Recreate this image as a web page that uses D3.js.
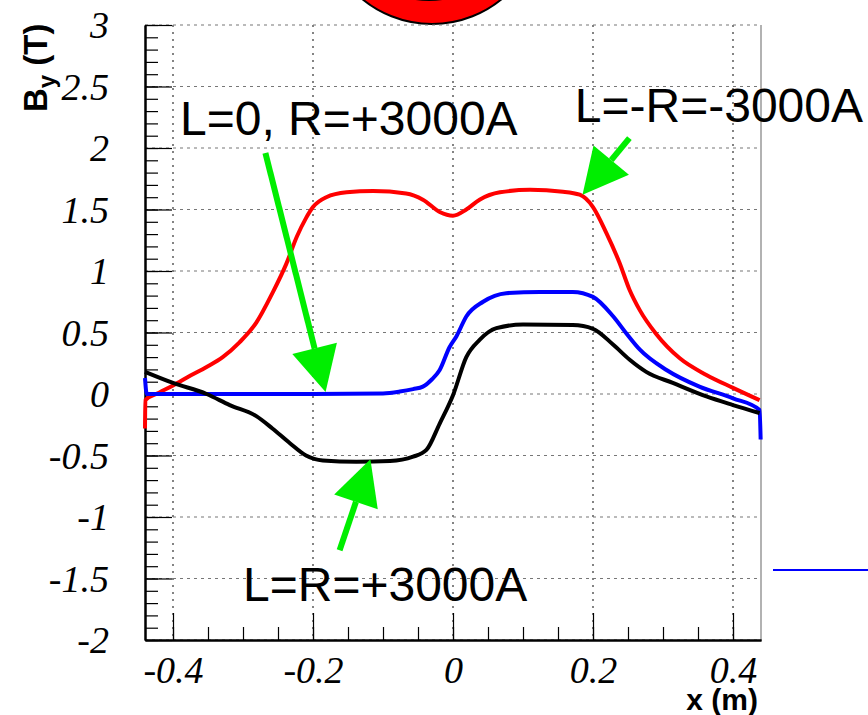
<!DOCTYPE html>
<meta charset="utf-8">
<style>
body { margin: 0; background: #fff; }
svg { display: block; }
.tick text { font-family: "Liberation Serif", serif; font-style: italic; font-size: 38px; fill: #000; }
.note { font-family: "Liberation Sans", Arial, sans-serif; font-size: 48px; fill: #000; }
.title { font-family: "Liberation Sans", Arial, sans-serif; font-weight: bold; fill: #000; }
</style>
<body>
<script src="https://cdn.jsdelivr.net/npm/d3@7"></script>
<script>
// ---- data ----
var xTicks = [-0.4, -0.2, 0, 0.2, 0.4]
var yTicks = [-2, -1.5, -1, -0.5, 0, 0.5, 1, 1.5, 2, 2.5, 3]

// L=-R=-3000A (red)
var redCurve = [[-0.44,-0.28],[-0.4395,-0.05],[-0.42,0.01],[-0.40,0.07],[-0.375,0.15],[-0.352,0.22],[-0.329,0.30],[-0.305,0.42],
  [-0.281,0.58],[-0.258,0.82],[-0.238,1.06],[-0.223,1.28],[-0.21,1.43],[-0.2,1.52],[-0.181,1.60],[-0.152,1.64],[-0.114,1.65],
  [-0.067,1.63],[-0.043,1.58],[-0.019,1.48],[0,1.45],[0.019,1.50],[0.038,1.58],[0.067,1.64],[0.11,1.66],[0.157,1.645],
  [0.181,1.62],[0.2,1.52],[0.219,1.31],[0.238,1.065],[0.252,0.85],[0.267,0.68],[0.29,0.49],[0.324,0.29],[0.362,0.155],
  [0.40,0.05],[0.438,-0.05]]
// L=0, R=+3000A (blue)
var blueCurve = [[-0.44,0.13],[-0.4375,0.0],[-0.4,0.0],[-0.3,0.0],[-0.2,0.0],[-0.1,0.005],[-0.076,0.02],[-0.057,0.04],
  [-0.043,0.06],[-0.03,0.12],[-0.019,0.195],[-0.005,0.38],[0.005,0.47],[0.019,0.63],[0.043,0.75],[0.076,0.82],[0.124,0.83],
  [0.171,0.83],[0.2,0.79],[0.229,0.63],[0.248,0.49],[0.267,0.36],[0.305,0.195],[0.352,0.06],[0.40,-0.035],[0.438,-0.13],[0.4395,-0.37]]
// L=R=+3000A (black)
var blackCurve = [[-0.44,0.18],[-0.4,0.09],[-0.352,0.0],[-0.319,-0.09],[-0.281,-0.18],[-0.258,-0.28],[-0.233,-0.40],
  [-0.21,-0.50],[-0.186,-0.54],[-0.138,-0.55],[-0.09,-0.545],[-0.057,-0.51],[-0.038,-0.455],[-0.019,-0.24],[0,-0.01],
  [0.019,0.30],[0.038,0.44],[0.062,0.535],[0.1,0.565],[0.171,0.56],[0.2,0.53],[0.229,0.40],[0.252,0.28],[0.276,0.18],
  [0.314,0.09],[0.362,-0.02],[0.40,-0.09],[0.438,-0.155]]

// annotations: text and arrows (start -> tip) in data units
var labels = [
  {text: "L=0, R=+3000A", x: -0.39, y: 2.106},
  {text: "L=-R=-3000A", x: 0.174, y: 2.211},
  {text: "L=R=+3000A", x: -0.300, y: -1.683}
]
var arrows = [
  {x0: -0.268, y0: 1.96, x1: -0.182, y1: 0.016},
  {x0: 0.252, y0: 2.08, x1: 0.185, y1: 1.62},
  {x0: -0.162, y0: -1.27, x1: -0.118, y1: -0.53}
]

var width = 868, height = 715
var margin = {top: 25, right: 107, bottom: 75, left: 145}

var svg = d3.select("body").append("svg")
    .attr("width", width)
    .attr("height", height)

var x = d3.scaleLinear().domain([-0.44, 0.44]).range([margin.left, width - margin.right])
var y = d3.scaleLinear().domain([-2, 3]).range([height - margin.bottom, margin.top])

// red badge peeking in at the top
var badge = svg.append("g")
badge.append("circle").attr("cx", 432).attr("cy", -86).attr("r", 110)
    .attr("fill", "#ff0000").attr("stroke", "#000").attr("stroke-width", 2)
badge.append("circle").attr("cx", 429).attr("cy", -88).attr("r", 88)
    .attr("fill", "#ff0000").attr("stroke", "#000").attr("stroke-width", 2)

// stray blue line on the right
svg.append("line").attr("x1", 773).attr("x2", 868).attr("y1", 570).attr("y2", 570)
    .attr("stroke", "#0000ff").attr("stroke-width", 2)

// grid
svg.append("g").selectAll("line").data(xTicks).enter().append("line")
    .attr("x1", d => x(d)).attr("x2", d => x(d))
    .attr("y1", y(3)).attr("y2", y(-2))
    .attr("stroke", "#333").attr("stroke-width", 1.2).attr("stroke-dasharray", "2,5")
svg.append("g").selectAll("line").data(yTicks).enter().append("line")
    .attr("x1", x(-0.44)).attr("x2", x(0.44))
    .attr("y1", d => y(d)).attr("y2", d => y(d))
    .attr("stroke", "#777").attr("stroke-width", 1.2).attr("stroke-dasharray", "3,4")

// right frame
svg.append("line").attr("x1", x(0.44)).attr("x2", x(0.44)).attr("y1", y(3)).attr("y2", y(-2))
    .attr("stroke", "#999").attr("stroke-width", 1.5)

// minor ticks
var yMinor = d3.range(-20, 31).map(d => d / 10)
var xMinor = d3.range(-8, 9).map(d => d * 0.05)
svg.append("g").attr("transform", "translate(" + margin.left + ",0)")
    .call(d3.axisLeft(y).tickValues(yMinor).tickSize(-13).tickSizeOuter(0).tickFormat(""))
svg.append("g").attr("transform", "translate(0," + y(-2) + ")")
    .call(d3.axisBottom(x).tickValues(xMinor).tickSize(-13).tickSizeOuter(0).tickFormat(""))

// major ticks + labels
var yAxis = svg.append("g").attr("transform", "translate(" + margin.left + ",0)")
    .call(d3.axisLeft(y).tickValues(yTicks).tickSize(-27).tickSizeOuter(0).tickPadding(36).tickFormat(d => String(d)))
yAxis.selectAll(".tick text").attr("dy", "0.33em")
var xAxis = svg.append("g").attr("transform", "translate(0," + y(-2) + ")")
    .call(d3.axisBottom(x).tickValues(xTicks).tickSize(-27).tickSizeOuter(0).tickFormat(d => String(d)))
xAxis.selectAll(".tick text").attr("y", 43).attr("dy", 0)

svg.selectAll(".domain").attr("stroke", "#000").attr("stroke-width", 2)
svg.selectAll(".tick line").attr("stroke", "#000").attr("stroke-width", 1.2)

// curves
var line = d3.line().x(d => x(d[0])).y(d => y(d[1])).curve(d3.curveMonotoneX)
var series = [
  {data: redCurve, color: "#ff0000"},
  {data: blueCurve, color: "#0000ff"},
  {data: blackCurve, color: "#000000"}
]
svg.append("g").selectAll("path").data(series).enter().append("path")
    .attr("d", d => line(d.data))
    .attr("fill", "none")
    .attr("stroke", d => d.color)
    .attr("stroke-width", 4)
    .attr("stroke-linejoin", "round")

// arrows
var green = "#00ee00"
arrows.forEach(function(a) {
  var sx = x(a.x0), sy = y(a.y0), tx = x(a.x1), ty = y(a.y1)
  var dx = sx - tx, dy = sy - ty, len = Math.sqrt(dx * dx + dy * dy)
  var ux = dx / len, uy = dy / len
  var hl = 45, hw = 23
  var bx = tx + ux * hl, by = ty + uy * hl
  svg.append("line").attr("x1", sx).attr("y1", sy).attr("x2", bx).attr("y2", by)
      .attr("stroke", green).attr("stroke-width", 6)
  svg.append("path")
      .attr("d", "M" + tx + "," + ty + "L" + (bx - uy * hw) + "," + (by + ux * hw) + "L" + (bx + uy * hw) + "," + (by - ux * hw) + "Z")
      .attr("fill", green)
})

svg.append("g").selectAll("text").data(labels).enter().append("text")
    .attr("class", "note")
    .attr("x", d => x(d.x)).attr("y", d => y(d.y))
    .text(d => d.text)

// axis titles
var yt = svg.append("text").attr("class", "title")
    .attr("transform", "translate(47,112) rotate(-90)")
    .style("font-size", "33px")
yt.append("tspan").text("B")
yt.append("tspan").attr("dy", 8).style("font-size", "24px").text("y")
yt.append("tspan").attr("dy", -8).text(" (T)")

svg.append("text").attr("class", "title")
    .attr("x", 758).attr("y", 710)
    .attr("text-anchor", "end")
    .style("font-size", "30px")
    .text("x (m)")
</script>
</body>
